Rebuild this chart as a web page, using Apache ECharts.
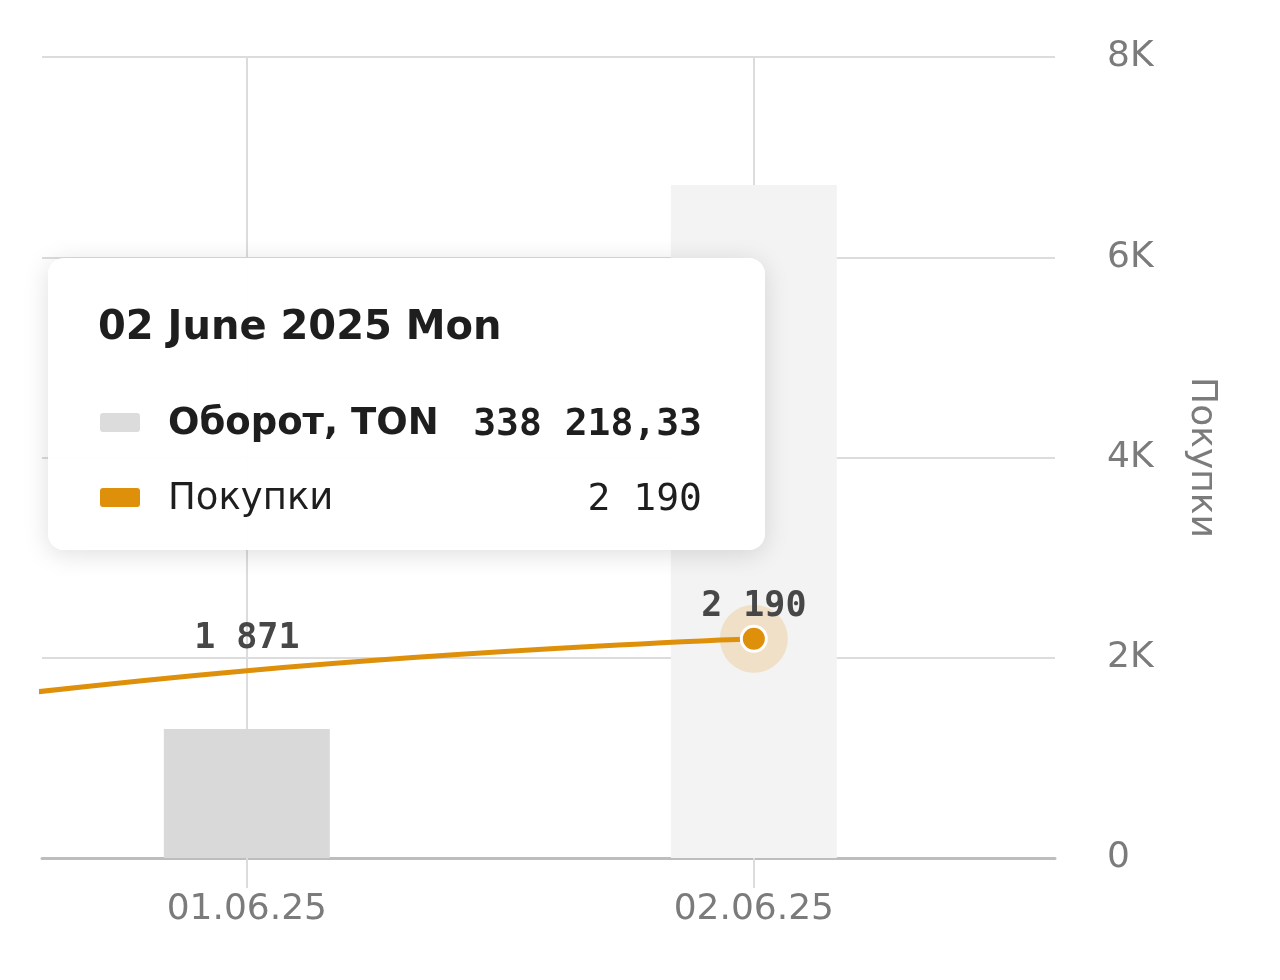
<!DOCTYPE html>
<html><head><meta charset="utf-8">
<script src="https://cdn.jsdelivr.net/npm/echarts@6/dist/echarts.min.js"></script>
<style>html,body{margin:0;padding:0;background:#fff;} #c{width:1280px;height:980px;}</style>
</head><body><div id="c"></div>
<script>
// ---- data ----
const dates = ['31.05.25', '01.06.25', '02.06.25'];
const fullDates = ['31 May 2025 Sat', '01 June 2025 Sun', '02 June 2025 Mon'];
const turnover = [null, 64800, 338218.33];      // Оборот, TON (hidden axis)
const purchases = [1290, 1871, 2190];           // Покупки (right axis)
const purchaseTicks = [0, 2000, 4000, 6000, 8000];
const seriesNames = ['Оборот, TON', 'Покупки'];
const activeIndex = 2;

// ---- helpers ----
const grp = s => s.replace(/\B(?=(\d{3})+(?!\d))/g, ' ');
const fmtInt = n => grp(String(Math.round(n)));
const fmtDec = n => { const p = n.toFixed(2).split('.'); return grp(p[0]) + ',' + p[1]; };
const kFmt = v => v === 0 ? '0' : (v / 1000) + 'K';

const barColors = ['#d9d9d9', '#d9d9d9', '#f3f3f3'];
const lineColor = '#de900b';
const grey = '#7b7b7b';

const chart = echarts.init(document.getElementById('c'), null, {renderer: 'canvas'});

const tooltipHtml = () => {
  const i = activeIndex;
  const row = (color, name, val, bold) =>
    `<div style="display:flex;align-items:center;height:56px;line-height:56px;">
       <span style="display:inline-block;width:40px;height:19px;border-radius:3px;background:${color};margin-left:2px;margin-right:28px;"></span>
       <span style="font-family:'DejaVu Sans';font-size:37px;font-weight:${bold ? 'bold' : 'normal'};color:#1e1e1e;">${name}</span>
       <span style="flex:1"></span>
       <span style="font-family:'DejaVu Sans Mono';font-size:38px;font-weight:${bold ? 'bold' : 'normal'};color:#1e1e1e;">${val}</span>
     </div>`;
  return `<div style="width:604px;padding:43px 63px 25px 50px;">
     <div style="font-family:'DejaVu Sans';font-weight:bold;font-size:40px;height:48px;line-height:48px;color:#1e1e1e;">${fullDates[i]}</div>
     <div style="height:45px"></div>
     ${row('#dcdcdc', seriesNames[0], fmtDec(turnover[i]), true)}
     <div style="height:19px"></div>
     ${row(lineColor, seriesNames[1], fmtInt(purchases[i]), false)}
   </div>`;
};

const catValues = dates.map((d, i) => i);

chart.setOption({
  animation: false,
  backgroundColor: '#ffffff',
  grid: {left: 42, right: 225, top: 57, bottom: 122, containLabel: false},
  tooltip: {
    trigger: 'item',
    triggerOn: 'none',
    alwaysShowContent: true,
    transitionDuration: 0,
    backgroundColor: 'rgba(255,255,255,0.95)',
    borderWidth: 0,
    padding: 0,
    position: [48, 258],
    extraCssText: 'border-radius:16px;box-shadow:0 4px 26px rgba(0,0,0,0.13);',
    formatter: tooltipHtml
  },
  xAxis: {
    type: 'value',
    min: 0.596,
    max: 2.594,
    axisLine: {show: true, lineStyle: {color: '#bdbdbd', width: 3}},
    axisTick: {show: true, customValues: catValues, length: 30, lineStyle: {color: '#dcdcdc', width: 2}},
    axisLabel: {
      customValues: catValues,
      formatter: v => dates[Math.round(v)] || '',
      color: grey, fontFamily: 'DejaVu Sans', fontSize: 36, margin: 34
    },
    splitLine: {show: true, lineStyle: {color: '#dcdcdc', width: 2}}
  },
  yAxis: [
    {
      type: 'value', position: 'right', min: 0, max: 8000, interval: 2000,
      name: seriesNames[1], nameLocation: 'middle', nameRotate: -90, nameGap: 128,
      nameTextStyle: {color: grey, fontFamily: 'DejaVu Sans', fontSize: 36},
      axisLine: {show: false}, axisTick: {show: false},
      axisLabel: {color: grey, fontFamily: 'DejaVu Sans', fontSize: 36, margin: 52, formatter: kFmt},
      splitLine: {show: true, lineStyle: {color: '#dcdcdc', width: 2}}
    },
    {
      type: 'value', show: false, min: 0, max: 402500, splitLine: {show: false}
    }
  ],
  series: [
    {
      name: seriesNames[0], type: 'bar', yAxisIndex: 1, barWidth: 166,
      data: turnover.map((v, i) => ({value: [i, v], itemStyle: {color: barColors[i]}})),
      emphasis: {disabled: true}, z: 1
    },
    {
      type: 'scatter', yAxisIndex: 0, symbolSize: 68, silent: true,
      itemStyle: {color: 'rgba(228,150,30,0.25)'},
      data: [[activeIndex, purchases[activeIndex]]],
      emphasis: {disabled: true}, z: 2
    },
    {
      name: seriesNames[1], type: 'line', yAxisIndex: 0, smooth: true,
      symbol: 'circle', symbolSize: 1, showSymbol: true,
      itemStyle: {color: lineColor},
      lineStyle: {color: lineColor, width: 5},
      label: {
        show: true, position: 'top', distance: 14,
        fontFamily: 'DejaVu Sans Mono', fontWeight: 'bold', fontSize: 35, color: '#474747',
        formatter: p => fmtInt(p.value[1])
      },
      data: purchases.map((v, i) => [i, v]),
      emphasis: {disabled: true}, z: 3
    },
    {
      type: 'scatter', yAxisIndex: 0, symbolSize: 25,
      itemStyle: {color: lineColor, borderColor: '#ffffff', borderWidth: 3, opacity: 1},
      data: [[activeIndex, purchases[activeIndex]]],
      emphasis: {disabled: true}, z: 4
    }
  ]
});

chart.dispatchAction({type: 'showTip', seriesIndex: 3, dataIndex: 0});
</script>
</body></html>
